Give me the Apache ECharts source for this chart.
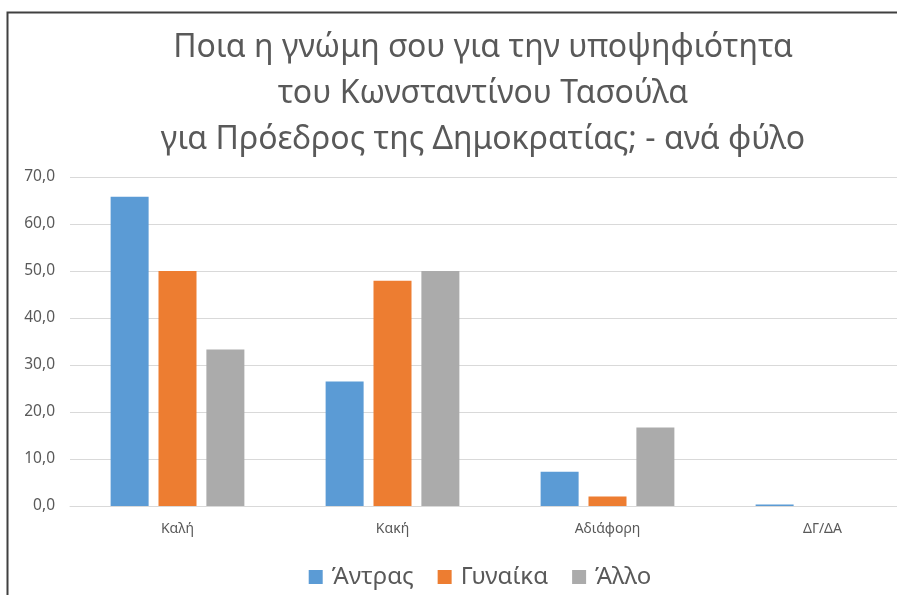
<!DOCTYPE html>
<html>
<head>
<meta charset="utf-8">
<script src="https://cdn.jsdelivr.net/npm/echarts@6/dist/echarts.min.js"></script>
<style>
  html, body { margin: 0; padding: 0; background: #fff; overflow: hidden; }
  #chart { width: 960px; height: 595px; }
</style>
</head>
<body>
<div id="chart"></div>
<script>
const categories = ['Καλή', 'Κακή', 'Αδιάφορη', 'ΔΓ/ΔΑ']
const seriesNames = ['Άντρας', 'Γυναίκα', 'Άλλο']
const men = [65.8, 26.5, 7.3, 0.3]
const women = [50.0, 47.9, 2.0, 0.0]
const other = [33.3, 50.0, 16.7, 0.0]
const colors = ['#5B9BD5', '#ED7D31', '#ABABAB']
const titleLines = [
  'Ποια η γνώμη σου για την υποψηφιότητα',
  'του Κωνσταντίνου Τασούλα',
  'για Πρόεδρος της Δημοκρατίας; - ανά φύλο'
]

const font = 'Noto Sans, sans-serif'
// the chart is wider than the window: the reference is cut off on the right
const myChart = echarts.init(document.getElementById('chart'))

const makeSeries = (name, data, color) => ({
  name,
  type: 'bar',
  data,
  barWidth: 38,
  barGap: '26%',
  itemStyle: { color }
})

const option = {
  animation: false,
  textStyle: { fontFamily: font },
  title: {
    text: titleLines.join('\n'),
    left: 478,
    top: 20,
    textAlign: 'center',
    textStyle: {
      fontFamily: font,
      fontSize: 32,
      fontWeight: 'normal',
      color: '#595959',
      lineHeight: 46
    }
  },
  legend: {
    bottom: 1,
    left: 'center',
    itemWidth: 14,
    itemHeight: 14,
    itemGap: 24,
    icon: 'rect',
    textStyle: { fontFamily: font, fontSize: 24, color: '#595959', padding: [0, 0, 0, 4] },
    data: seriesNames
  },
  grid: { left: 70, top: 177, width: 860, height: 329 },
  xAxis: {
    type: 'category',
    data: categories,
    axisLine: { lineStyle: { color: '#D9D9D9' } },
    axisTick: { show: false },
    axisLabel: { color: '#595959', fontSize: 14, margin: 16, fontFamily: font }
  },
  yAxis: {
    type: 'value',
    min: 0,
    max: 70,
    interval: 10,
    axisLine: { show: false },
    axisTick: { show: false },
    splitLine: { lineStyle: { color: '#D9D9D9' } },
    axisLabel: {
      color: '#595959',
      fontSize: 15.5,
      margin: 15,
      fontFamily: font,
      formatter: v => v.toFixed(1).replace('.', ',')
    }
  },
  graphic: [{
    type: 'rect',
    shape: { x: 7.5, y: 12.5, width: 1000, height: 1000 },
    style: { fill: 'none', stroke: '#404040', lineWidth: 2 },
    silent: true
  }],
  series: [
    makeSeries(seriesNames[0], men, colors[0]),
    makeSeries(seriesNames[1], women, colors[1]),
    makeSeries(seriesNames[2], other, colors[2])
  ]
}

myChart.setOption(option)
</script>
</body>
</html>
